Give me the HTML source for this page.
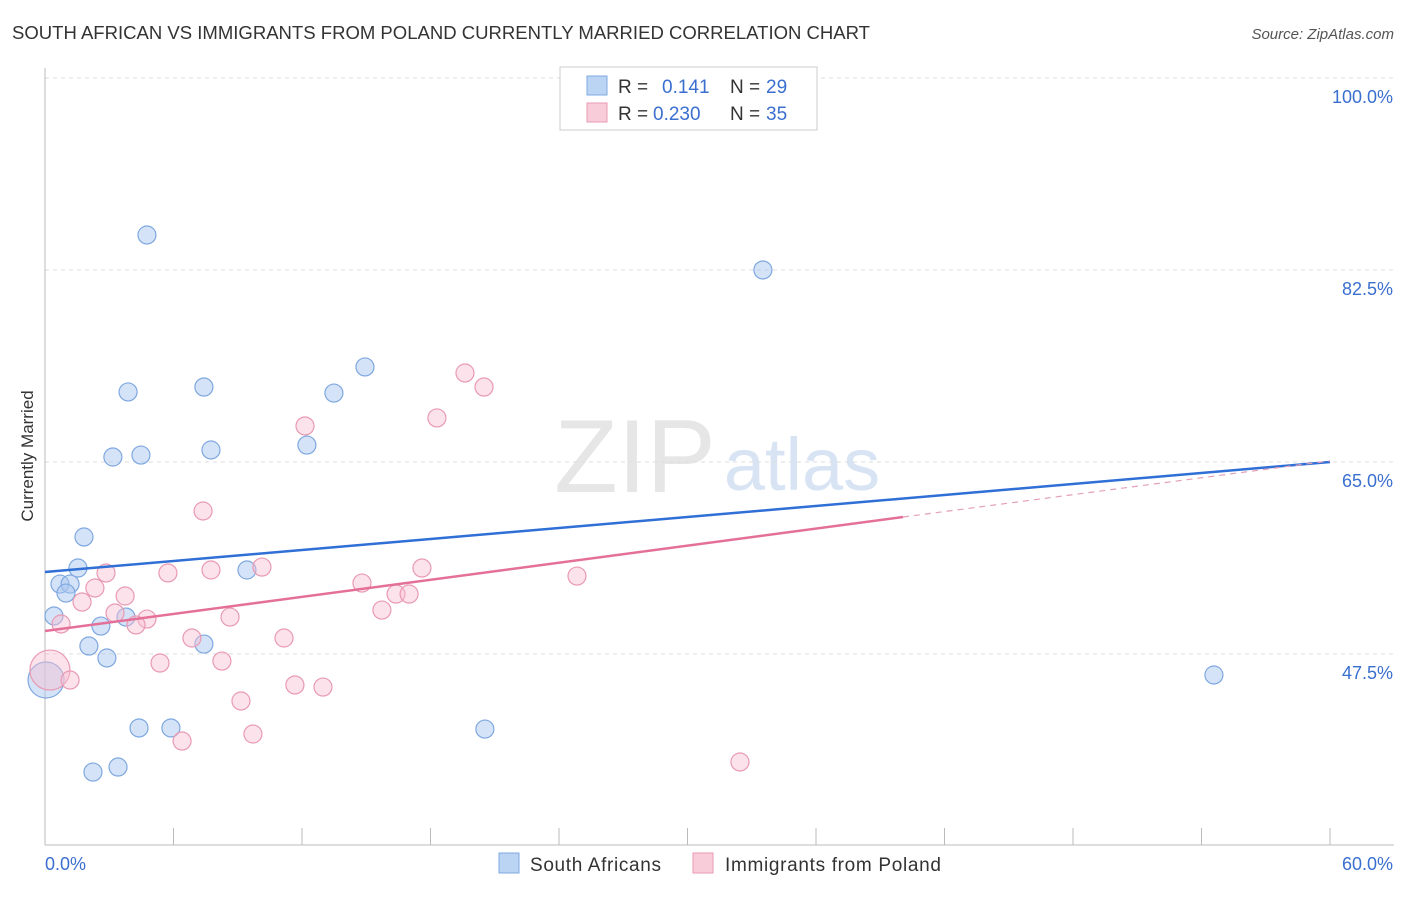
<!DOCTYPE html>
<html><head><meta charset="utf-8">
<style>
body{margin:0;background:#fff;font-family:"Liberation Sans",sans-serif;}
svg text{font-family:"Liberation Sans",sans-serif;}
</style></head>
<body>
<svg id="chart" width="1406" height="892" xmlns="http://www.w3.org/2000/svg">
<text x="12" y="39" font-size="18" fill="#333" textLength="858" lengthAdjust="spacingAndGlyphs">SOUTH AFRICAN VS IMMIGRANTS FROM POLAND CURRENTLY MARRIED CORRELATION CHART</text>
<text x="1394" y="39" font-size="15" fill="#555" text-anchor="end" font-style="italic">Source: ZipAtlas.com</text>
<text transform="translate(33,456) rotate(-90)" font-size="17" fill="#333" text-anchor="middle">Currently Married</text>
<g>
<text x="635" y="492" font-size="104" fill="#e6e6e6" text-anchor="middle" font-family="Liberation Serif,serif">ZIP</text>
<text x="802" y="490" font-size="74" fill="#d8e4f4" text-anchor="middle">atlas</text>
</g>
<g id="grid"></g><g id="axes"></g><g id="marks"></g>
<g>
<rect x="560" y="67" width="257" height="63" fill="#fff" stroke="#ccc"/>
<rect x="587" y="76" width="20" height="19" fill="#bcd4f4" stroke="#7fa8e0"/>
<rect x="587" y="103" width="20" height="19" fill="#f9ccd9" stroke="#e99ab3"/>
<text x="618" y="93" font-size="19" fill="#333">R = </text><text x="662" y="93" font-size="19" fill="#3a6fd0">0.141</text>
<text x="730" y="93" font-size="19" fill="#333">N = </text><text x="766" y="93" font-size="19" fill="#3a6fd0">29</text>
<text x="618" y="120" font-size="19" fill="#333">R = </text><text x="653" y="120" font-size="19" fill="#3a6fd0">0.230</text>
<text x="730" y="120" font-size="19" fill="#333">N = </text><text x="766" y="120" font-size="19" fill="#3a6fd0">35</text>
</g>
<g>
<rect x="499" y="853" width="20" height="20" fill="#bcd4f4" stroke="#7fa8e0"/>
<text x="530" y="871" font-size="19" fill="#333" textLength="131">South Africans</text>
<rect x="693" y="853" width="20" height="20" fill="#f9ccd9" stroke="#e99ab3"/>
<text x="725" y="871" font-size="19" fill="#333" textLength="216">Immigrants from Poland</text>
</g>
</svg>
<script>
const blueX=[4.76,33.52,14.94,3.88,7.42,13.49,7.75,12.23,3.17,4.48,1.82,1.54,0.70,1.17,0.98,9.43,0.42,3.78,2.61,2.05,7.42,2.89,0.05,54.58,4.39,5.88,20.54,2.24,3.41];
const blueY=[85.69,82.5,73.66,71.38,71.83,71.28,66.09,66.54,65.45,65.63,58.16,55.33,53.87,53.87,53.05,55.15,50.96,50.86,50.04,48.22,48.40,47.13,45.12,45.58,40.75,40.75,40.65,36.73,37.19];
const blueR=[9,9,9,9,9,9,9,9,9,9,9,9,9,9,9,9,9,9,9,9,9,9,18,9,9,9,9,9,9];
const pinkX=[19.61,20.50,18.30,12.14,7.38,17.60,10.13,7.75,5.74,2.85,24.84,14.80,2.33,3.74,1.73,3.27,15.73,16.39,17.00,4.76,4.25,8.64,0.75,6.86,11.16,8.26,5.37,0.23,1.17,11.67,12.98,9.15,6.40,9.71,32.45];
const pinkY=[73.11,71.83,69.01,68.28,60.53,55.33,55.42,55.15,54.88,54.88,54.60,53.96,53.51,52.78,52.23,51.23,51.50,52.96,52.96,50.68,50.14,50.86,50.23,48.95,48.95,46.85,46.67,46.03,45.12,44.67,44.48,43.21,39.56,40.20,37.65];
const pinkR=[9,9,9,9,9,9,9,9,9,9,9,9,9,9,9,9,9,9,9,9,9,9,9,9,9,9,9,20,9,9,9,9,9,9,9];
const yTicks=[100,82.5,65,47.5];
const yTickLabels=["100.0%","82.5%","65.0%","47.5%"];
const blueTrend=[[0,54.97],[60,65.0]];
const pinkTrend=[[0,49.59],[40.06,59.98],[60,65.1]];
const X0=45,X1=1330,Y100=78,PPU=10.97;
const xs=v=>X0+(v/60)*(X1-X0);
const ys=v=>Y100+(100-v)*PPU;
const NS="http://www.w3.org/2000/svg";
function mk(tag,attrs,parent){const e=document.createElementNS(NS,tag);for(const k in attrs)e.setAttribute(k,attrs[k]);document.getElementById(parent).appendChild(e);return e;}
yTicks.forEach((t,i)=>{
  const l=mk('line',{x1:X0,x2:1394,y1:ys(t),y2:ys(t),stroke:'#ddd','stroke-dasharray':'4,4'},'grid');
  
  
  const tx=mk('text',{x:1393,y:ys(t)+25,'font-size':18,fill:'#3a6fd0','text-anchor':'end'},'axes');
  tx.textContent=yTickLabels[i];
  
  
});
const ax=mk('line',{x1:X0,x2:1394,y1:845,y2:845,stroke:'#bbb'},'axes');


const ay=mk('line',{x1:X0,x2:X0,y1:68,y2:845,stroke:'#bbb'},'axes');


for(let i=0;i<=10;i++){
  const tk=mk('line',{x1:xs(i*6),x2:xs(i*6),y1:828,y2:845,stroke:'#bbb'},'axes');
  
  
}
const xl0=mk('text',{x:45,y:870,'font-size':18,fill:'#3a6fd0'},'axes');xl0.textContent='0.0%';


const xl1=mk('text',{x:1393,y:870,'font-size':18,fill:'#3a6fd0','text-anchor':'end'},'axes');xl1.textContent='60.0%';


blueX.forEach((v,i)=>{
  const c=mk('circle',{cx:xs(v),cy:ys(blueY[i]),r:blueR[i],fill:'rgba(170,200,240,0.5)',stroke:'#7fa8e0','stroke-width':1.2},'marks');
  
  
});
pinkX.forEach((v,i)=>{
  const c=mk('circle',{cx:xs(v),cy:ys(pinkY[i]),r:pinkR[i],fill:'rgba(248,190,210,0.45)',stroke:'#e99ab3','stroke-width':1.2},'marks');
  
  
});
const bl=mk('line',{x1:xs(blueTrend[0][0]),y1:ys(blueTrend[0][1]),x2:xs(blueTrend[1][0]),y2:ys(blueTrend[1][1]),stroke:'#2f6fd6','stroke-width':2.5},'marks');


const pl=mk('line',{x1:xs(pinkTrend[0][0]),y1:ys(pinkTrend[0][1]),x2:xs(pinkTrend[1][0]),y2:ys(pinkTrend[1][1]),stroke:'#e4709a','stroke-width':2.5},'marks');


const pd=mk('line',{x1:xs(pinkTrend[1][0]),y1:ys(pinkTrend[1][1]),x2:xs(pinkTrend[2][0]),y2:ys(pinkTrend[2][1]),stroke:'#e4a0b8','stroke-width':1.2,'stroke-dasharray':'6,5'},'marks');


</script>
</body></html>
